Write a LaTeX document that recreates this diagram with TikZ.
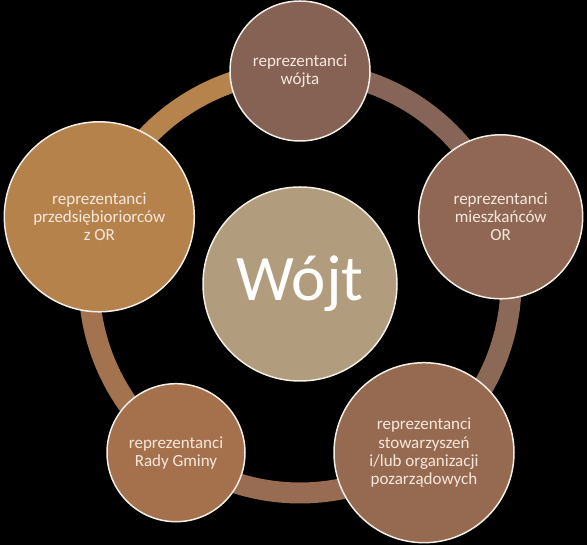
\documentclass[tikz,border=0pt]{standalone}
\usepackage{fontspec}
\setmainfont{Carlito}
\definecolor{rim}{HTML}{F2EEE6}
\definecolor{ink}{HTML}{F8E8DC}
\definecolor{headfill}{HTML}{B19D7D}
\definecolor{c0}{HTML}{856254}
\definecolor{c1}{HTML}{8F6754}
\definecolor{c2}{HTML}{966A50}
\definecolor{c3}{HTML}{A5714C}
\definecolor{c4}{HTML}{B6824C}
\definecolor{s0}{HTML}{B5834B}
\definecolor{s1}{HTML}{876458}
\definecolor{s2}{HTML}{8C6857}
\definecolor{s3}{HTML}{986C52}
\definecolor{s4}{HTML}{A37350}
\pgfdeclarelayer{back}
\pgfdeclarelayer{ring}
\pgfsetlayers{back,ring,main}
\tikzset{
  member/.style={circle, draw=rim, line width=1.5pt, inner sep=0pt, minimum size=140pt,
    text=ink, align=center, font=\fontsize{17}{18.3}\selectfont},
  head/.style={circle, draw=rim, line width=1.5pt, inner sep=0pt, minimum size=194pt,
    fill=headfill, text=white, font=\fontsize{65}{65}\selectfont},
  link/.style={line width=21pt}
}
\begin{document}
\begin{tikzpicture}[x=1pt, y=1pt]
\useasboundingbox (0,0) rectangle (587,545);
\begin{pgfonlayer}{back}
\fill[black] (0,0) rectangle (587,545);
\end{pgfonlayer}
\node[head] (wojt) at (300,261){Wójt};
\node[member, fill=c0] (rep0) at (300,474){reprezentanci\\wójta};
\node[member, fill=c1, minimum size=164pt] (rep1) at (500.7,328.2){reprezentanci\\mieszkańców\\OR};
\node[member, fill=c2, minimum size=180pt] (rep2) at (424,92.3){reprezentanci\\stowarzyszeń\\i/lub organizacji\\pozarządowych};
\node[member, fill=c3, minimum size=138pt] (rep3) at (176,92.3){reprezentanci\\Rady Gminy};
\node[member, fill=c4, minimum size=190pt] (rep4) at (99.3,328.2){reprezentanci\\przedsiębioriorców\\z OR};
\begin{pgfonlayer}{ring}
\draw[link, s0](rep0.center) arc[start angle=90, end angle=162, radius=211pt];
\draw[link, s1](rep0.center) arc[start angle=90, end angle=18, radius=211pt];
\draw[link, s2](rep1.center) arc[start angle=18, end angle=-54, radius=211pt];
\draw[link, s3](rep2.center) arc[start angle=-54, end angle=-126, radius=211pt];
\draw[link, s4](rep3.center) arc[start angle=-126, end angle=-198, radius=211pt];
\end{pgfonlayer}
\end{tikzpicture}
\end{document}
